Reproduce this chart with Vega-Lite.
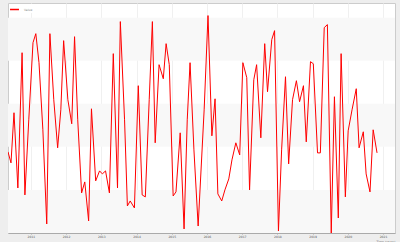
{
  "$schema": "https://vega.github.io/schema/vega-lite/v6.json",
  "width": 387,
  "height": 230,
  "autosize": {"type": "none"},
  "padding": {"left": 8, "top": 3, "right": 5, "bottom": 9},
  "background": "#eeeeee",
  "view": {"fill": "#ffffff", "stroke": "#cccccc", "strokeWidth": 1},
  "datasets": {
    "bands": [
      {"lo": 0, "hi": 500},
      {"lo": 1000, "hi": 1500},
      {"lo": 2000, "hi": 2500}
    ],
    "series": [
      {"t": 2010.35, "v": 942, "s": "Value"},
      {"t": 2010.435, "v": 814, "s": "Value"},
      {"t": 2010.52, "v": 1396, "s": "Value"},
      {"t": 2010.63, "v": 523, "s": "Value"},
      {"t": 2010.75, "v": 2093, "s": "Value"},
      {"t": 2010.83, "v": 442, "s": "Value"},
      {"t": 2010.94, "v": 1314, "s": "Value"},
      {"t": 2011.06, "v": 2210, "s": "Value"},
      {"t": 2011.14, "v": 2314, "s": "Value"},
      {"t": 2011.23, "v": 1977, "s": "Value"},
      {"t": 2011.34, "v": 1198, "s": "Value"},
      {"t": 2011.45, "v": 105, "s": "Value"},
      {"t": 2011.54, "v": 2314, "s": "Value"},
      {"t": 2011.65, "v": 1547, "s": "Value"},
      {"t": 2011.76, "v": 989, "s": "Value"},
      {"t": 2011.85, "v": 1430, "s": "Value"},
      {"t": 2011.93, "v": 2233, "s": "Value"},
      {"t": 2012.05, "v": 1547, "s": "Value"},
      {"t": 2012.16, "v": 1268, "s": "Value"},
      {"t": 2012.24, "v": 2279, "s": "Value"},
      {"t": 2012.33, "v": 1314, "s": "Value"},
      {"t": 2012.44, "v": 465, "s": "Value"},
      {"t": 2012.53, "v": 593, "s": "Value"},
      {"t": 2012.64, "v": 140, "s": "Value"},
      {"t": 2012.72, "v": 1442, "s": "Value"},
      {"t": 2012.84, "v": 605, "s": "Value"},
      {"t": 2012.95, "v": 721, "s": "Value"},
      {"t": 2013.03, "v": 686, "s": "Value"},
      {"t": 2013.12, "v": 721, "s": "Value"},
      {"t": 2013.23, "v": 465, "s": "Value"},
      {"t": 2013.34, "v": 2082, "s": "Value"},
      {"t": 2013.46, "v": 523, "s": "Value"},
      {"t": 2013.54, "v": 2454, "s": "Value"},
      {"t": 2013.66, "v": 1314, "s": "Value"},
      {"t": 2013.74, "v": 314, "s": "Value"},
      {"t": 2013.82, "v": 372, "s": "Value"},
      {"t": 2013.94, "v": 291, "s": "Value"},
      {"t": 2014.05, "v": 1710, "s": "Value"},
      {"t": 2014.16, "v": 442, "s": "Value"},
      {"t": 2014.25, "v": 419, "s": "Value"},
      {"t": 2014.36, "v": 1547, "s": "Value"},
      {"t": 2014.45, "v": 2454, "s": "Value"},
      {"t": 2014.53, "v": 1047, "s": "Value"},
      {"t": 2014.64, "v": 1954, "s": "Value"},
      {"t": 2014.76, "v": 1791, "s": "Value"},
      {"t": 2014.84, "v": 2198, "s": "Value"},
      {"t": 2014.93, "v": 1954, "s": "Value"},
      {"t": 2015.04, "v": 430, "s": "Value"},
      {"t": 2015.12, "v": 477, "s": "Value"},
      {"t": 2015.24, "v": 1163, "s": "Value"},
      {"t": 2015.35, "v": 47, "s": "Value"},
      {"t": 2015.44, "v": 1314, "s": "Value"},
      {"t": 2015.52, "v": 1977, "s": "Value"},
      {"t": 2015.63, "v": 965, "s": "Value"},
      {"t": 2015.75, "v": 81, "s": "Value"},
      {"t": 2015.92, "v": 1430, "s": "Value"},
      {"t": 2016.03, "v": 2524, "s": "Value"},
      {"t": 2016.14, "v": 1128, "s": "Value"},
      {"t": 2016.23, "v": 1558, "s": "Value"},
      {"t": 2016.31, "v": 454, "s": "Value"},
      {"t": 2016.42, "v": 372, "s": "Value"},
      {"t": 2016.51, "v": 500, "s": "Value"},
      {"t": 2016.62, "v": 628, "s": "Value"},
      {"t": 2016.71, "v": 849, "s": "Value"},
      {"t": 2016.82, "v": 1047, "s": "Value"},
      {"t": 2016.93, "v": 907, "s": "Value"},
      {"t": 2017.02, "v": 1977, "s": "Value"},
      {"t": 2017.13, "v": 1803, "s": "Value"},
      {"t": 2017.21, "v": 500, "s": "Value"},
      {"t": 2017.33, "v": 1779, "s": "Value"},
      {"t": 2017.41, "v": 1954, "s": "Value"},
      {"t": 2017.53, "v": 1105, "s": "Value"},
      {"t": 2017.64, "v": 2198, "s": "Value"},
      {"t": 2017.72, "v": 1640, "s": "Value"},
      {"t": 2017.84, "v": 2245, "s": "Value"},
      {"t": 2017.92, "v": 2349, "s": "Value"},
      {"t": 2018.03, "v": 23, "s": "Value"},
      {"t": 2018.12, "v": 965, "s": "Value"},
      {"t": 2018.23, "v": 1814, "s": "Value"},
      {"t": 2018.32, "v": 802, "s": "Value"},
      {"t": 2018.43, "v": 1547, "s": "Value"},
      {"t": 2018.54, "v": 1768, "s": "Value"},
      {"t": 2018.63, "v": 1524, "s": "Value"},
      {"t": 2018.74, "v": 1710, "s": "Value"},
      {"t": 2018.82, "v": 1058, "s": "Value"},
      {"t": 2018.94, "v": 1989, "s": "Value"},
      {"t": 2019.02, "v": 1965, "s": "Value"},
      {"t": 2019.14, "v": 930, "s": "Value"},
      {"t": 2019.22, "v": 930, "s": "Value"},
      {"t": 2019.33, "v": 2384, "s": "Value"},
      {"t": 2019.42, "v": 2419, "s": "Value"},
      {"t": 2019.53, "v": 0, "s": "Value"},
      {"t": 2019.62, "v": 1582, "s": "Value"},
      {"t": 2019.73, "v": 174, "s": "Value"},
      {"t": 2019.81, "v": 2082, "s": "Value"},
      {"t": 2019.93, "v": 419, "s": "Value"},
      {"t": 2020.01, "v": 1186, "s": "Value"},
      {"t": 2020.12, "v": 1430, "s": "Value"},
      {"t": 2020.24, "v": 1675, "s": "Value"},
      {"t": 2020.32, "v": 989, "s": "Value"},
      {"t": 2020.44, "v": 1175, "s": "Value"},
      {"t": 2020.52, "v": 686, "s": "Value"},
      {"t": 2020.63, "v": 477, "s": "Value"},
      {"t": 2020.72, "v": 1198, "s": "Value"},
      {"t": 2020.83, "v": 930, "s": "Value"}
    ]
  },
  "config": {
    "font": "DejaVu Sans",
    "axis": {
      "labelFontSize": 3,
      "labelColor": "#555555",
      "domainColor": "#aaaaaa",
      "tickColor": "#aaaaaa",
      "tickSize": 1,
      "labelPadding": 1,
      "gridColor": "#f0f0f0",
      "titleFontSize": 3,
      "titleColor": "#555555",
      "titleFontWeight": "normal"
    }
  },
  "layer": [
    {
      "data": {"name": "bands"},
      "mark": {"type": "rect", "fill": "#f8f8f8"},
      "encoding": {
        "y": {"field": "lo", "type": "quantitative", "scale": {"domain": [0, 2670], "nice": false}, "axis": null},
        "y2": {"field": "hi"}
      }
    },
    {
      "data": {"name": "series"},
      "mark": {"type": "line", "strokeWidth": 1, "clip": true},
      "encoding": {
        "x": {
          "field": "t",
          "type": "quantitative",
          "scale": {"domain": [2010.35, 2021.34], "nice": false, "zero": false},
          "axis": {
            "values": [2011, 2012, 2013, 2014, 2015, 2016, 2017, 2018, 2019, 2020, 2021],
            "format": "d",
            "grid": true,
            "title": "Time (years)",
            "titleAnchor": "end",
            "titlePadding": 0,
            "titleY": 7
          }
        },
        "y": {
          "field": "v",
          "type": "quantitative",
          "scale": {"domain": [0, 2670], "nice": false},
          "axis": {
            "values": [0, 500, 1000, 1500, 2000, 2500],
            "grid": false,
            "title": null,
            "labelAngle": 0
          }
        },
        "color": {
          "field": "s",
          "type": "nominal",
          "scale": {"range": ["#ff0000"]},
          "legend": {
            "orient": "top-left",
            "title": null,
            "labelFontSize": 3,
            "labelColor": "#888888",
            "symbolType": "stroke",
            "symbolSize": 80,
            "symbolStrokeWidth": 1.5,
            "offset": 1,
            "padding": 0,
            "fillColor": "#ffffff",
            "encode": {"symbols": {"update": {"stroke": {"value": "#ff0000"}, "strokeWidth": {"value": 1.5}}}}
          }
        }
      }
    }
  ]
}
